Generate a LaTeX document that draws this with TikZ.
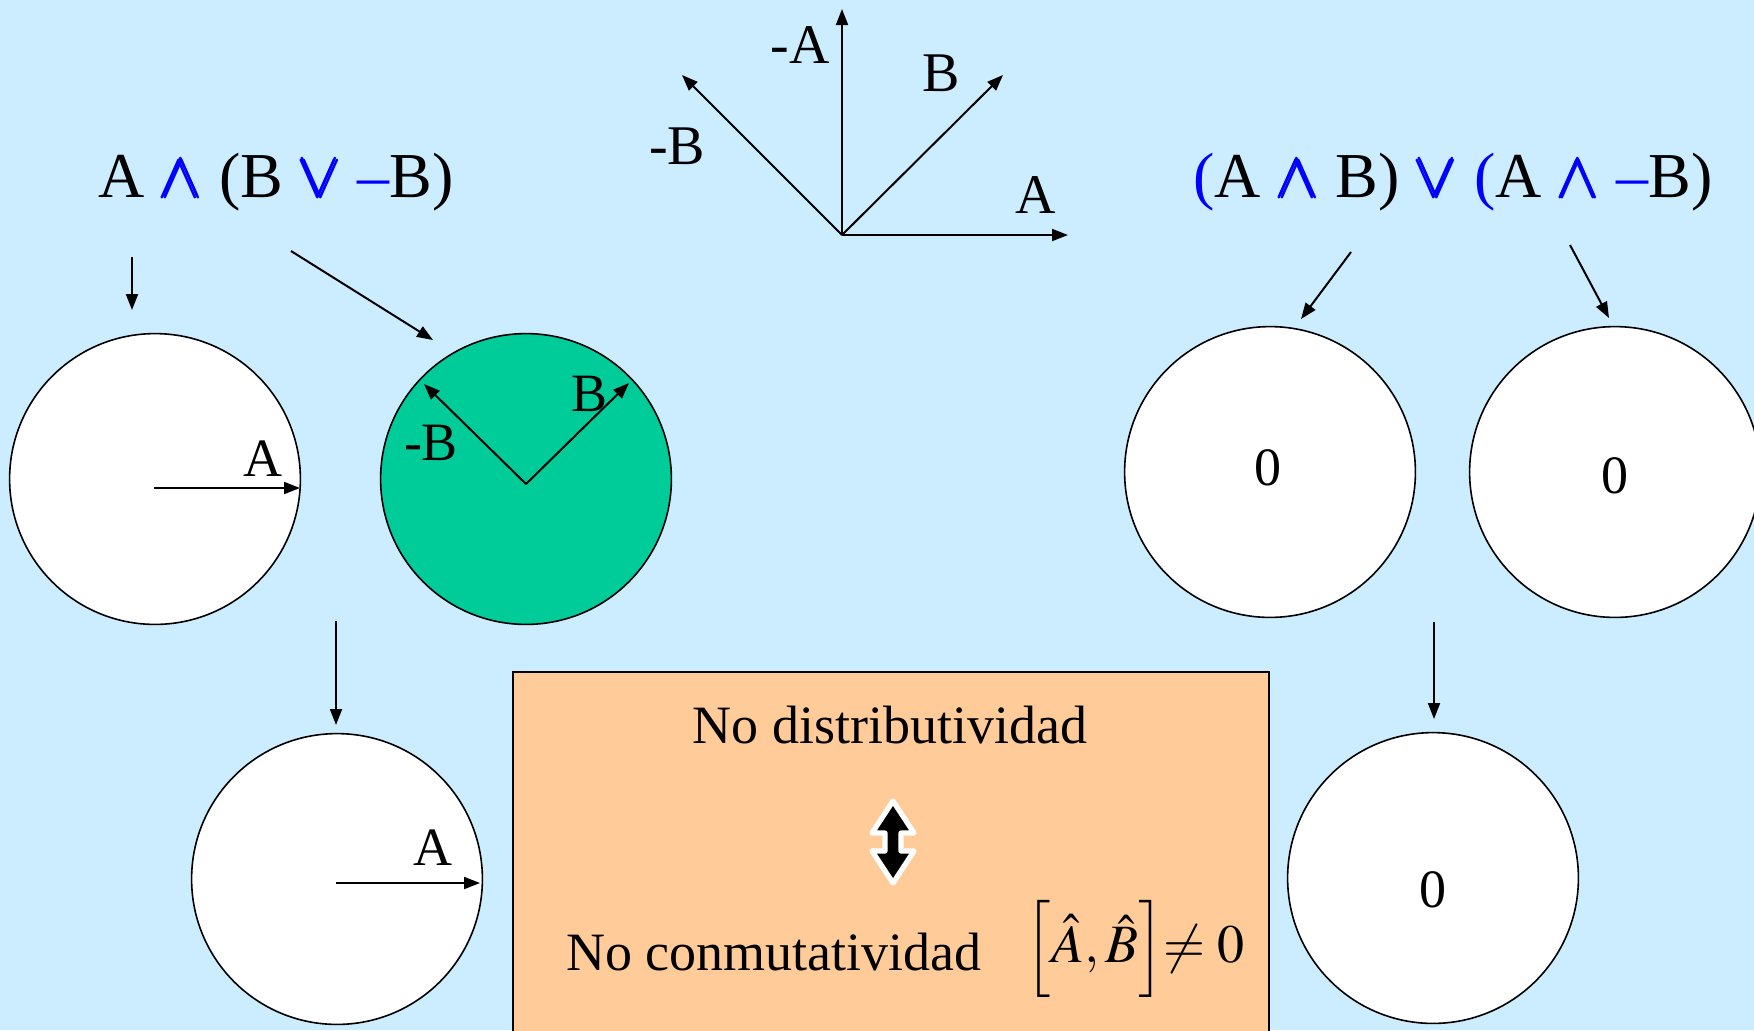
\documentclass[tikz,border=0pt]{standalone}
\usepackage{amsmath}
\usepackage{mathptmx}
\usepackage{fontspec}
\setmainfont{Liberation Serif}
\usetikzlibrary{arrows.meta}

\definecolor{skyback}{HTML}{CCECFF}
\definecolor{discgreen}{HTML}{00CC99}
\definecolor{peach}{HTML}{FFCC99}
\newcommand{\lAnd}{\textcolor{blue}{$\pmb{\wedge}$}}
\newcommand{\lOr}{\textcolor{blue}{$\pmb{\vee}$}}
\newcommand{\lNot}{\textcolor{blue}{–}}
\newcommand{\bpar}{\textcolor{blue}{(}}

\begin{document}
\begin{tikzpicture}[
  x=0.25pt, y=-0.25pt,
  font=\fontsize{13.5}{16}\selectfont,
  disc/.style={circle, draw, line width=0.4pt, fill=white,
               minimum size=72.7pt, inner sep=0pt},
  vec/.style={-{Triangle[length=4pt,width=3pt]}, line width=0.5pt},
  lbl/.style={inner sep=0pt},
  axlbl/.style={inner sep=0pt, font=\fontsize{14}{16}\selectfont},
  formula/.style={inner sep=0pt, font=\fontsize{16}{19}\selectfont}
]
\useasboundingbox (0,0) rectangle (1754,1030);
\fill[skyback] (0,0) rectangle (1754,1030);

% reference frame
\coordinate (o) at (842,235);
\coordinate (ax) at (1068,235);
\coordinate (amx) at (842,9);
\coordinate (bx) at (1003,75);
\coordinate (bmx) at (682,75);
\draw[vec] (o) -- (ax);
\draw[vec] (o) -- (amx);
\draw[vec] (o) -- (bx);
\draw[vec] (o) -- (bmx);
\node[axlbl] (la) at (1036,195) {A};
\node[axlbl] (lma) at (800,45) {-A};
\node[axlbl] (lb) at (941,73) {B};
\node[axlbl] (lmb) at (677,146) {-B};

% the two expressions
\node[formula] (lhs) at (276,182) {A \lAnd{} (B \lOr{} \lNot B)};
\node[formula] (rhs) at (1453,182) {\bpar A \lAnd{} B) \lOr{} \bpar A \lAnd{} \lNot B)};

% projections
\node[disc] (c1) at (155,479) {};
\node[disc, fill=discgreen] (c2) at (526,479) {};
\node[disc] (c3) at (337,879) {};
\node[disc] (c4) at (1270,472) {};
\node[disc] (c5) at (1615,472) {};
\node[disc] (c6) at (1433,878) {};
\node[lbl] (z4) at (1268,468) {0};
\node[lbl] (z5) at (1615,476) {0};
\node[lbl] (z6) at (1433,890) {0};

\coordinate (o1) at (154,488);
\coordinate (a1) at (300,488);
\draw[vec] (o1) -- (a1);
\node[lbl] (l1) at (263,459) {A};

\coordinate (o2) at (526,484);
\coordinate (b2) at (629,383);
\coordinate (mb2) at (424,384);
\draw[vec] (o2) -- (b2);
\draw[vec] (o2) -- (mb2);
\node[lbl] (l2) at (590,394) {B};
\node[lbl] (l2m) at (431,443) {-B};

\coordinate (o3) at (336,883);
\coordinate (a3) at (480,883);
\draw[vec] (o3) -- (a3);
\node[lbl] (l3) at (433,848) {A};

% connectors
\coordinate (s1) at (132,257);
\coordinate (e1) at (132,310);
\coordinate (s2) at (291,251);
\coordinate (e2) at (433,340);
\coordinate (s3) at (336,621);
\coordinate (e3) at (336,725);
\coordinate (s4) at (1351,252);
\coordinate (e4) at (1301,319);
\coordinate (s5) at (1570,245);
\coordinate (e5) at (1609,318);
\coordinate (s6) at (1434,622);
\coordinate (e6) at (1434,719);
\foreach \i in {1,...,6}
  \draw[vec] (s\i) -- (e\i);

% conclusion box
\node[draw, line width=0.4pt, fill=peach, anchor=north west, minimum width=189pt,
      minimum height=100pt, inner sep=0pt] (box) at (512,671) {};
\node[lbl] (nodist) at (890,725) {No distributividad};
\node[lbl] (nocom) at (774,952) {No conmutatividad};
\node[lbl] (comm) at (1135,949) {$\Big[\hat{A},\hat{B}\Big]\!\!\neq 0$};
\filldraw[black, draw=white, line width=1.3pt, line join=round]
  (893,801) -- (914,833) -- (901,833) -- (901,851) -- (914,851) -- (893,883)
  -- (872,851) -- (885,851) -- (885,833) -- (872,833) -- cycle;
\end{tikzpicture}
\end{document}
